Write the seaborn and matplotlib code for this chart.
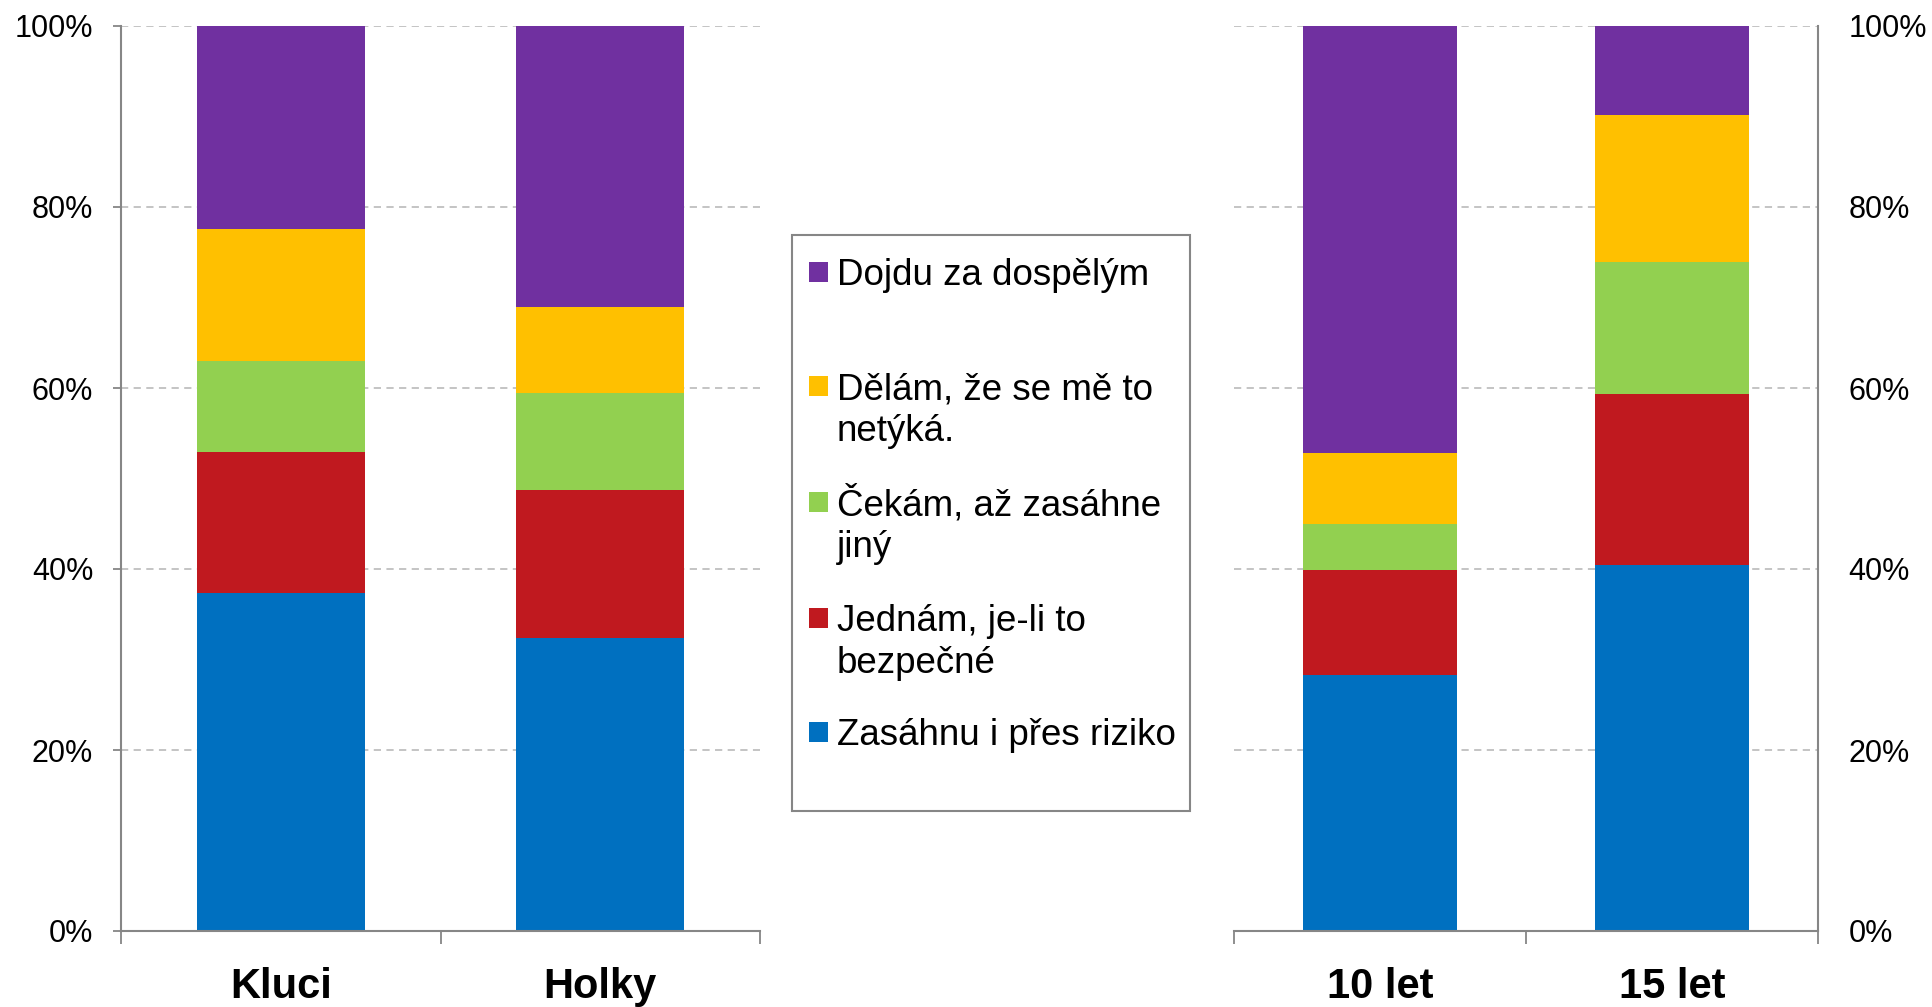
import numpy as np
import pandas as pd
import matplotlib
matplotlib.use('Agg')
import matplotlib.pyplot as plt
import seaborn as sns
from matplotlib.patches import Rectangle
from matplotlib.ticker import PercentFormatter

# data (percent shares)
groups_gender = ['Kluci', 'Holky']
groups_age = ['10 let', '15 let']

series = ['Zasáhnu i přes riziko',
          'Jednám, je-li to\nbezpečné',
          'Čekám, až zasáhne\njiný',
          'Dělám, že se mě to\nnetýká.',
          'Dojdu za dospělým']
colors = ['#0070C0', '#C0191F', '#92D050', '#FFC000', '#7030A0']

# values per series, order: Kluci, Holky, 10 let, 15 let
zasahnu = [37.3, 32.4, 28.3, 40.4]
jednam = [15.6, 16.3, 11.6, 18.9]
cekam = [10.1, 10.8, 5.1, 14.6]
delam = [14.6, 9.5, 7.8, 16.3]
dojdu = [22.4, 31.0, 47.2, 9.8]

W, H = 1932, 1007
sns.set_style('white')
plt.rcParams['font.family'] = ['Liberation Sans', 'DejaVu Sans']
plt.rcParams['text.color'] = 'black'
plt.rcParams['xtick.labelcolor'] = 'black'
plt.rcParams['ytick.labelcolor'] = 'black'

GRAY = '#868686'
GRID = '#BFBFBF'

rows = []
all_groups = groups_gender + groups_age
for s, vals in zip(series, [zasahnu, jednam, cekam, delam, dojdu]):
    for g, v in zip(all_groups, vals):
        rows.append({'skupina': g, 'odpoved': s, 'podil': v})
df = pd.DataFrame(rows)
df['kum'] = df.groupby('skupina')['podil'].cumsum()

fig = plt.figure(figsize=(W / 100, H / 100), dpi=100)


def px_box(x0, x1, ytop, ybot):
    return [x0 / W, 1 - ybot / H, (x1 - x0) / W, (ybot - ytop) / H]


ax1 = fig.add_axes(px_box(121, 760, 26, 931))
ax2 = fig.add_axes(px_box(1234, 1818, 26, 931))

for ax, groups in [(ax1, groups_gender), (ax2, groups_age)]:
    sub = df[df['skupina'].isin(groups)]
    # draw cumulative heights from the top segment down
    for s, c in reversed(list(zip(series, colors))):
        d = sub[sub['odpoved'] == s]
        sns.barplot(data=d, x='skupina', y='kum', order=groups, color=c,
                    saturation=1, width=0.525, linewidth=0, errorbar=None, ax=ax)
    ax.set_xlim(-0.5, 1.5)
    ax.set_ylim(0, 100)
    ax.set_xlabel('')
    ax.set_ylabel('')
    ax.set_yticks(np.arange(0, 101, 20))
    ax.yaxis.set_major_formatter(PercentFormatter(decimals=0))
    ax.yaxis.grid(True, linestyle=(0, (4, 3)), color=GRID, linewidth=1.3)
    ax.set_axisbelow(True)
    # boundary ticks + category labels
    ax.set_xticks([-0.5, 0.5, 1.5])
    ax.set_xticklabels(['', '', ''])
    ax.set_xticks([0, 1], minor=True)
    ax.set_xticklabels(groups, minor=True, fontsize=30, fontweight='bold')
    ax.tick_params(axis='x', which='major', length=9.5, width=1.3, color=GRAY,
                   direction='out', bottom=True)
    ax.tick_params(axis='x', which='minor', length=0, pad=26)
    for sp in ax.spines.values():
        sp.set_color(GRAY)
        sp.set_linewidth(1.5)
    ax.spines['top'].set_visible(False)

ax1.spines['right'].set_visible(False)
ax1.tick_params(axis='y', length=6, width=1.3, color=GRAY, direction='out',
                left=True, labelsize=22, pad=14)

ax2.spines['left'].set_visible(False)
ax2.yaxis.tick_right()
ax2.tick_params(axis='y', length=0, labelsize=22, pad=22)

# legend box
fig.patches.append(Rectangle((792 / W, 1 - 811 / H), (1190 - 792) / W,
                             (811 - 235) / H, transform=fig.transFigure,
                             facecolor='white', edgecolor=GRAY, linewidth=1.5))
baselines = [285, 399, 515, 631, 745]
line_gap = 42
for s, c, yb in zip(reversed(series), reversed(colors), baselines):
    fig.patches.append(Rectangle((809 / W, 1 - (yb - 3) / H), 19 / W, 20 / H,
                                 transform=fig.transFigure, facecolor=c,
                                 edgecolor='none'))
    for i, line in enumerate(s.split('\n')):
        fig.text(837 / W, 1 - (yb + i * line_gap) / H, line, fontsize=26.5,
                 va='baseline', ha='left')

fig.savefig('out.png', dpi=100)
